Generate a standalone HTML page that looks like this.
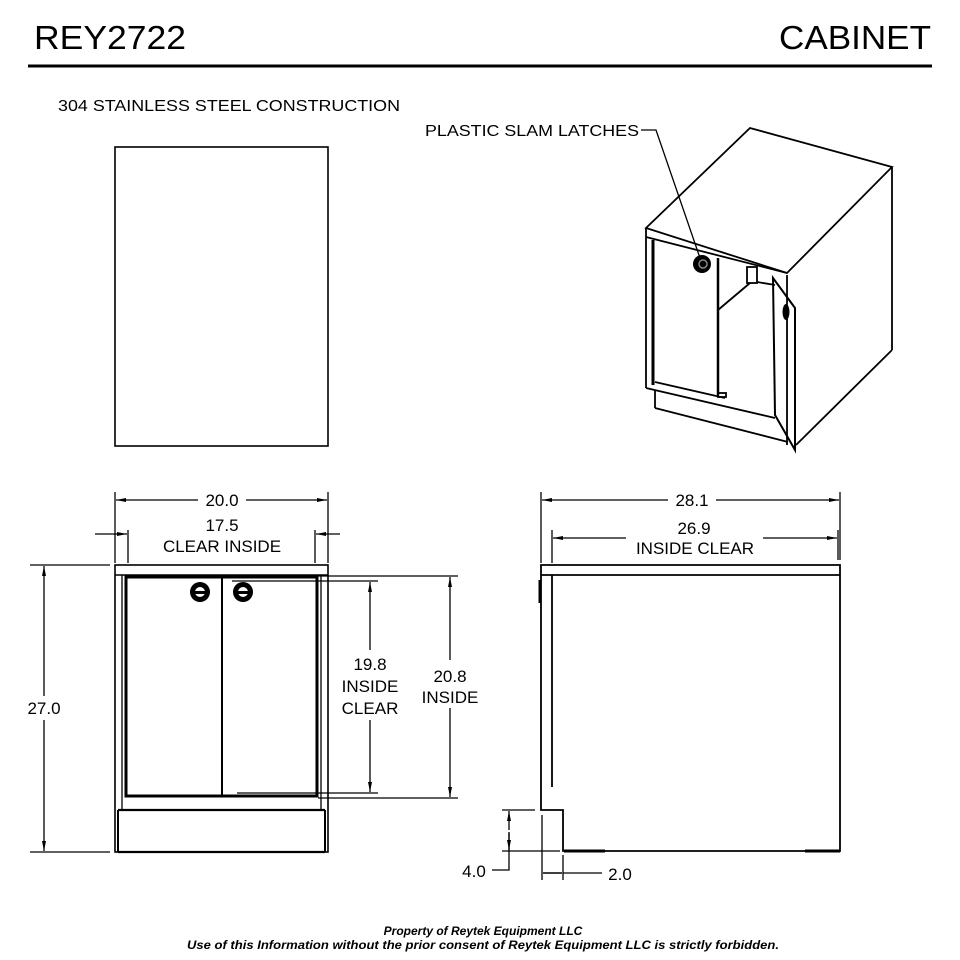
<!DOCTYPE html>
<html><head><meta charset="utf-8"><style>
html,body{margin:0;padding:0;background:#fff}
svg{display:block}
text{font-family:"Liberation Sans",Arial,sans-serif;fill:#000}
</style></head><body>
<svg width="960" height="960" viewBox="0 0 960 960" xmlns="http://www.w3.org/2000/svg">
<defs>
<marker id="a" markerWidth="10" markerHeight="6" refX="10" refY="3" orient="auto-start-reverse" markerUnits="userSpaceOnUse"><path d="M0,1 L10,3 L0,5 Z" fill="#000"/></marker>
</defs>
<text x="34" y="49" font-size="33" textLength="152" lengthAdjust="spacingAndGlyphs">REY2722</text>
<text x="779" y="49" font-size="33" textLength="152" lengthAdjust="spacingAndGlyphs">CABINET</text>
<line x1="28" y1="66" x2="932" y2="66" stroke="#000" stroke-width="3"/>
<text x="58" y="111" font-size="16" textLength="342" lengthAdjust="spacingAndGlyphs">304 STAINLESS STEEL CONSTRUCTION</text>

<rect x="115" y="147" width="213" height="299" fill="none" stroke="#000" stroke-width="1.6"/>

<text x="425" y="136" font-size="16" textLength="214" lengthAdjust="spacingAndGlyphs">PLASTIC SLAM LATCHES</text>
<polyline points="641,130 656,130 700,258" fill="none" stroke="#000" stroke-width="1.3"/>
<g fill="none" stroke="#000" stroke-width="1.8">
<polygon points="646,228 750,128 892,167 787,273"/>
<line x1="892" y1="167" x2="892" y2="350"/>
<line x1="892" y1="350" x2="796" y2="445"/>
<line x1="646" y1="237" x2="787" y2="273"/>
<line x1="646" y1="228" x2="646" y2="388"/>
<line x1="653" y1="240" x2="653" y2="385" stroke-width="3"/>
<line x1="718" y1="258" x2="718" y2="395" stroke-width="2.5"/>
<line x1="655" y1="382" x2="725" y2="398"/>
<rect x="718" y="393" width="8" height="4"/>
<line x1="718" y1="310" x2="750" y2="283"/>
<rect x="747" y="267" width="10" height="16"/>
<line x1="757" y1="282" x2="775" y2="285"/>
<polygon points="773,278 795,308 795,450 775,415" stroke-width="2"/>
<line x1="787" y1="275" x2="787" y2="445"/>
<line x1="646" y1="388" x2="775" y2="418"/>
<line x1="655" y1="390" x2="655" y2="408"/>
<line x1="655" y1="408" x2="788" y2="442"/>
</g>
<circle cx="702" cy="264" r="9" fill="#000"/><circle cx="703" cy="264" r="4" fill="none" stroke="#888" stroke-width="1.5"/>
<ellipse cx="786" cy="312" rx="3.5" ry="8" fill="#000"/>

<g fill="none" stroke="#000">
<rect x="115" y="565" width="213" height="287" stroke-width="1.6"/>
<line x1="115" y1="575" x2="328" y2="575" stroke-width="1.6"/>
<rect x="126" y="577" width="191" height="219" stroke-width="3"/>
<line x1="222" y1="577" x2="222" y2="796" stroke-width="2"/>
<line x1="118" y1="810" x2="325" y2="810" stroke-width="2.2"/>
<line x1="118" y1="810" x2="118" y2="852" stroke-width="2"/>
<line x1="325" y1="810" x2="325" y2="852" stroke-width="2"/>
<line x1="118" y1="852" x2="325" y2="852" stroke-width="2.2"/>
<line x1="122" y1="575" x2="122" y2="810" stroke-width="1.3"/>
<line x1="321" y1="575" x2="321" y2="810" stroke-width="1.3"/>
</g>
<g>
<circle cx="200" cy="592" r="10" fill="#000"/><circle cx="200" cy="592" r="5" fill="#fff"/><rect x="193" y="591" width="14" height="3" fill="#000"/>
<circle cx="243" cy="592" r="10" fill="#000"/><circle cx="243" cy="592" r="5" fill="#fff"/><rect x="236" y="591" width="14" height="3" fill="#000"/>
</g>
<g stroke="#000" stroke-width="1.3" fill="none">
<line x1="115" y1="492" x2="115" y2="563"/><line x1="328" y1="492" x2="328" y2="563"/>
<line x1="116" y1="500" x2="198" y2="500" marker-start="url(#a)"/><line x1="246" y1="500" x2="327" y2="500" marker-end="url(#a)"/>
<line x1="128" y1="530" x2="128" y2="563"/><line x1="315" y1="530" x2="315" y2="563"/>
<line x1="95" y1="534" x2="127" y2="534" marker-end="url(#a)"/><line x1="340" y1="534" x2="316" y2="534" marker-end="url(#a)"/>
<line x1="30" y1="565" x2="110" y2="565"/><line x1="30" y1="852" x2="110" y2="852"/>
<line x1="44" y1="696" x2="44" y2="566" marker-end="url(#a)"/><line x1="44" y1="720" x2="44" y2="851" marker-end="url(#a)"/>
<line x1="318" y1="576" x2="458" y2="576"/><line x1="318" y1="798" x2="458" y2="798"/>
<line x1="232" y1="581" x2="378" y2="581"/><line x1="237" y1="793" x2="378" y2="793"/>
<line x1="370" y1="650" x2="370" y2="582" marker-end="url(#a)"/><line x1="370" y1="720" x2="370" y2="792" marker-end="url(#a)"/>
<line x1="450" y1="660" x2="450" y2="577" marker-end="url(#a)"/><line x1="450" y1="708" x2="450" y2="797" marker-end="url(#a)"/>
</g>
<g font-size="17" text-anchor="middle">
<text x="222" y="506">20.0</text>
<text x="222" y="531">17.5</text>
<text x="222" y="552">CLEAR INSIDE</text>
<text x="44" y="714" style="paint-order:stroke" stroke="#fff" stroke-width="4">27.0</text>
<text x="370" y="670">19.8</text>
<text x="370" y="692">INSIDE</text>
<text x="370" y="714">CLEAR</text>
<text x="450" y="682">20.8</text>
<text x="450" y="703">INSIDE</text>
</g>

<g fill="none" stroke="#000" stroke-width="1.8">
<polyline points="541,793 541,565 840,565 840,851 563,851 563,810 541,810 541,793"/>
<line x1="541" y1="575" x2="840" y2="575"/>
<line x1="552" y1="575" x2="552" y2="787"/>
<line x1="540" y1="580" x2="540" y2="603" stroke-width="3"/>
<line x1="564" y1="851" x2="605" y2="851" stroke-width="3"/>
<line x1="805" y1="851" x2="840" y2="851" stroke-width="3"/>
</g>
<g stroke="#000" stroke-width="1.3" fill="none">
<line x1="541" y1="492" x2="541" y2="563"/><line x1="840" y1="492" x2="840" y2="560"/>
<line x1="542" y1="500" x2="668" y2="500" marker-start="url(#a)"/><line x1="716" y1="500" x2="839" y2="500" marker-end="url(#a)"/>
<line x1="552" y1="530" x2="552" y2="563"/><line x1="838" y1="530" x2="838" y2="560"/>
<line x1="553" y1="538" x2="626" y2="538" marker-start="url(#a)"/><line x1="763" y1="538" x2="837" y2="538" marker-end="url(#a)"/>
<line x1="502" y1="810" x2="535" y2="810"/><line x1="502" y1="851" x2="560" y2="851"/>
<line x1="509" y1="830" x2="509" y2="811" marker-end="url(#a)"/><line x1="509" y1="832" x2="509" y2="850" marker-end="url(#a)"/>
<polyline points="492,870 509,870 509,833"/>
<line x1="542" y1="815" x2="542" y2="880"/><line x1="563" y1="855" x2="563" y2="880"/>
<line x1="543" y1="873" x2="562" y2="873" stroke-width="1.5"/>
<line x1="563" y1="873" x2="602" y2="873"/>
</g>
<g font-size="17" text-anchor="middle">
<text x="692" y="506">28.1</text>
<text x="694" y="534">26.9</text>
<text x="695" y="554">INSIDE CLEAR</text>
<text x="474" y="877">4.0</text>
<text x="620" y="880">2.0</text>
</g>

<g font-size="12" font-style="italic" font-weight="bold" text-anchor="middle">
<text x="483" y="935">Property of Reytek Equipment LLC</text>
<text x="483" y="949" textLength="592" lengthAdjust="spacingAndGlyphs">Use of this Information without the prior consent of Reytek Equipment LLC is strictly forbidden.</text>
</g>
</svg>
</body></html>
